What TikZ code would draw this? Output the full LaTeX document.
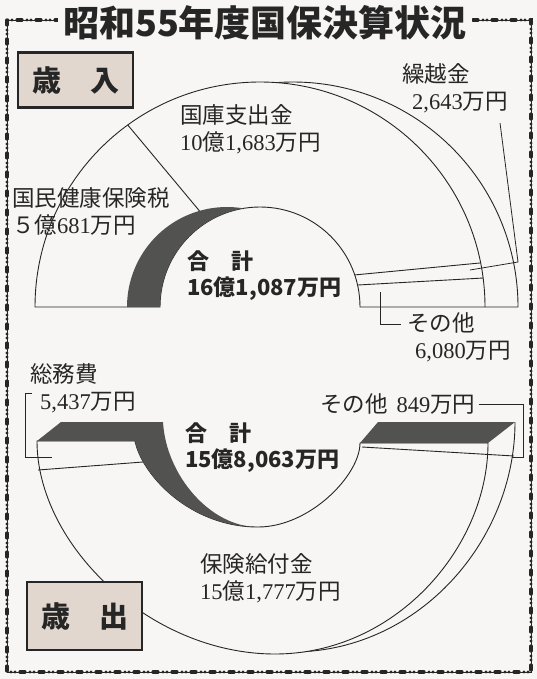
\documentclass[tikz,border=0pt]{standalone}
\usepackage{fontspec}
\setmainfont{Liberation Serif}
\newfontfamily\jp{Noto Sans CJK JP}
\usepackage{tikz}
\usetikzlibrary{positioning, calc}
\definecolor{paper}{RGB}{247,246,244}
\definecolor{ink}{RGB}{38,38,38}
\definecolor{facegray}{RGB}{82,82,80}
\definecolor{boxfill}{RGB}{226,215,207}
\tikzstyle{beads} = [draw=ink, line width=0.7pt, preaction={draw=ink, line width=3.2pt, line cap=round, dash pattern=on 5pt off 5pt on 0pt off 4pt on 0pt off 5pt}]
\tikzstyle{ring} = [draw=ink, line width=0.9pt]
\tikzstyle{front} = [fill=paper, draw=ink, line width=0.9pt]
\tikzstyle{darkface} = [fill=facegray]
\tikzstyle{leader} = [draw=ink, line width=0.8pt]
\tikzstyle{heading} = [font=\jp\bfseries\fontsize{36}{36}\selectfont, fill=paper, text=ink, inner xsep=5pt, inner ysep=2pt]
\tikzstyle{hdbox} = [draw=ink, line width=2.4pt, fill=boxfill, minimum width=115pt, font=\jp\bfseries\fontsize{29}{29}\selectfont, text=ink]
\tikzstyle{amount} = [font=\fontsize{22.5}{27}\selectfont, text=ink, align=left, anchor=west, inner sep=0pt]
\tikzstyle{total} = [font=\jp\bfseries\fontsize{22}{26}\selectfont, text=ink, align=left, anchor=west, inner sep=0pt]

\begin{document}
\begin{tikzpicture}[x=1pt, y=-1pt]
\fill[paper] (0,0) rectangle (537,679);
\useasboundingbox (0,0) rectangle (537,679);
\draw[beads] (7,20) rectangle (531,672);
\node[heading] (title) at (265,23) {昭和55年度国保決算状況};

% income half
\coordinate (O1) at (260,307);
\coordinate (O2) at (227,307);
\coordinate (O3) at (293,307);
\draw[ring] ($(O3)+(265.8:225)$) arc[start angle=265.8, end angle=360, radius=225] -- ($(O1)+(0:225)$);
\draw[front] ($(O1)+(180:225)$) arc[start angle=180, end angle=360, radius=225] -- ($(O1)+(0:100)$) arc[start angle=360, end angle=180, radius=100] -- cycle;
\fill[darkface] ($(O2)+(180:100)$) arc[start angle=180, end angle=279.5, radius=100] arc[start angle=260.5, end angle=180, radius=100] -- cycle;
\draw[ring] ($(O1)+(234:225)$) -- ($(O2)+(254:100)$);
\draw[ring] ($(O1)+(341.3:100)$) -- ($(O1)+(348.7:225)$);
\draw[ring] ($(O1)+(347.3:100)$) -- ($(O1)+(352.6:225)$);

\node[hdbox, minimum height=55pt] (income) at (75.5,80) {歳　入};
\node[amount] (kokko) at (180,129.5) {{\jp 国庫支出金}\\10{\jp 億}1,683{\jp 万円}};
\node[amount] (kokumin) at (12,211) {{\jp 国民健康保険税}\\{\jp ５億}681{\jp 万円}};
\node[amount] (kurikoshi) at (402,88.5) {{\jp 繰越金}\\\hspace*{10pt}2,643{\jp 万円}};
\node[amount] (sonota-in) at (407,337.5) {{\jp その他}\\\hspace*{8pt}6,080{\jp 万円}};
\node[total] (sum-in) at (187,275.5) {合　計\\16億1,087万円};

\coordinate (kk-top) at (500,123);
\coordinate (kk-bend) at (518,262);
\coordinate (kk-end) at (470,270);
\draw[leader] (kk-top) -- (kk-bend) -- (kk-end);
\coordinate (so-in-end) at (380,292);
\draw[leader] (so-in-end) |- ($(sonota-in.north west)+(-6,12)$);

% outgo half
\draw[ring] (295,652) .. controls (420,650) and (515,540) .. (515,422);
\draw[front] (37,441) .. controls (37,545) and (150,654) .. (275,654) .. controls (395,654) and (488,548) .. (488,443) -- (360,443) .. controls (360,475) and (310,527) .. (258,527) .. controls (190,527) and (142,475) .. (135,441) -- cycle;
\fill[darkface] (37,441) -- (61,422) -- (163,422) .. controls (166,475) and (210,527) .. (258,527) .. controls (190,527) and (142,475) .. (135,441) -- cycle;
\fill[darkface] (360,443) -- (378,422) -- (515,422) -- (488,443) -- cycle;
\draw[ring] (38,470) -- (143,462);
\draw[ring] (362,447) -- (514,456);

\node[hdbox, minimum height=68pt] (outgo) at (84.5,616) {歳　出};
\node[amount] (somu) at (30,388.5) {{\jp 総務費}\\\hspace*{10pt}5,437{\jp 万円}};
\node[total] (sum-out) at (185,448) {合　計\\15億8,063万円};
\node[amount] (hoken) at (200,578.5) {{\jp 保険給付金}\\15{\jp 億}1,777{\jp 万円}};
\node[amount] (sonota-out) at (320,404) {{\jp その他}\hspace{9pt}849{\jp 万円}};

\coordinate (sm-a) at (32,393);
\coordinate (sm-b) at (25,393);
\coordinate (sm-c) at (25,457);
\coordinate (sm-d) at (52,457);
\draw[leader] (sm-a) -- (sm-b) -- (sm-c) -- (sm-d);
\coordinate (so-out-bend) at (523,457);
\coordinate (so-out-end) at (512,457);
\draw[leader] ([xshift=3pt]sonota-out.east) -| (so-out-bend) -- (so-out-end);
\end{tikzpicture}
\end{document}
